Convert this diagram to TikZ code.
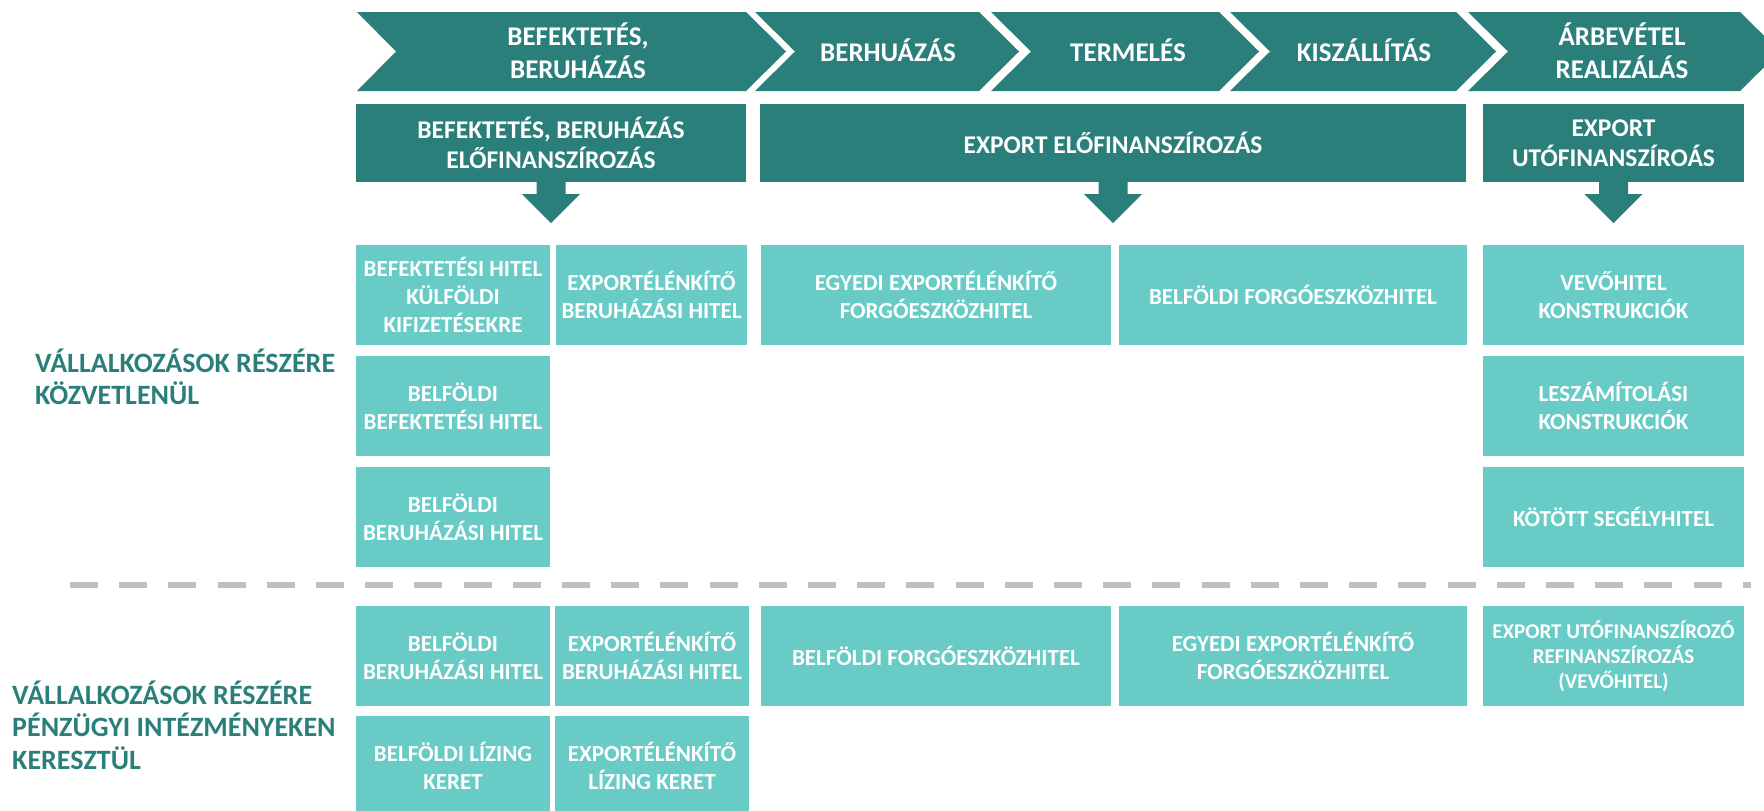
\documentclass[tikz,border=0pt]{standalone}
\usepackage{fontspec}
\setmainfont{Carlito}
\definecolor{tealdark}{HTML}{2B7F7B}
\definecolor{teallight}{HTML}{68CBC6}
\definecolor{dashgray}{HTML}{BFBFBF}

\begin{document}
\begin{tikzpicture}[x=1pt,y=-1pt,
    phase/.style={fill=tealdark},
    phasetext/.style={text=white,align=center,inner sep=0pt,font=\bfseries\fontsize{27}{33}\selectfont},
    stage/.style={fill=tealdark,text=white,align=center,inner sep=0pt,minimum height=78pt,font=\bfseries\fontsize{25.5}{30}\selectfont},
    loan/.style={fill=teallight,text=white,align=center,inner sep=0pt,minimum height=100pt,font=\bfseries\fontsize{23}{28}\selectfont},
    group/.style={text=tealdark,align=left,anchor=west,inner sep=0pt,font=\bfseries\fontsize{28}{32.5}\selectfont},
    sep/.style={draw=dashgray,line width=6pt,dash pattern=on 28pt off 21.2pt}]
                    \useasboundingbox (0,0) rectangle (1764,811);
                    \clip (0,0) rectangle (1764,811);

                    % phases
                    \fill[phase] (357,12) -- (746,12) -- (786,51.5) -- (746,91) -- (357,91) -- (396,51.5) -- cycle;
                    \fill[phase] (755,12) -- (979,12) -- (1019,51.5) -- (979,91) -- (755,91) -- (795,51.5) -- cycle;
                    \fill[phase] (991,12) -- (1219,12) -- (1259,51.5) -- (1219,91) -- (991,91) -- (1031,51.5) -- cycle;
                    \fill[phase] (1230,12) -- (1456,12) -- (1496,51.5) -- (1456,91) -- (1230,91) -- (1270,51.5) -- cycle;
                    \fill[phase] (1468,12) -- (1740,12) -- (1780,51.5) -- (1740,91) -- (1468,91) -- (1508,51.5) -- cycle;
                    \node[phasetext] at (578,51) (befektetes) {BEFEKTETÉS,\\BERUHÁZÁS};
                    \node[phasetext] at (888,50) (berhuazas) {BERHUÁZÁS};
                    \node[phasetext] at (1128,50) (termeles) {TERMELÉS};
                    \node[phasetext] at (1364,50) (kiszallitas) {KISZÁLLÍTÁS};
                    \node[phasetext] at (1622,51) (arbevetel) {ÁRBEVÉTEL\\REALIZÁLÁS};

                    % financing stages
                    \node[stage,minimum width=390pt] at (551,143) (befin) {BEFEKTETÉS, BERUHÁZÁS\\ELŐFINANSZÍROZÁS};
                    \node[stage,minimum width=706pt] at (1113,143) (expfin) {EXPORT ELŐFINANSZÍROZÁS};
                    \node[stage,minimum width=261pt] at (1613.5,143) (utofin) {EXPORT\\UTÓFINANSZÍROÁS};

                    \fill[tealdark] ([xshift=-14.5pt]befin.south) -- ++(0,12) -- ++(-14.5,0) -- ++(29,29) -- ++(29,-29) -- ++(-14.5,0) -- ++(0,-12) -- cycle;
                    \fill[tealdark] ([xshift=-14.5pt]expfin.south) -- ++(0,12) -- ++(-14.5,0) -- ++(29,29) -- ++(29,-29) -- ++(-14.5,0) -- ++(0,-12) -- cycle;
                    \fill[tealdark] ([xshift=-14.5pt]utofin.south) -- ++(0,12) -- ++(-14.5,0) -- ++(29,29) -- ++(29,-29) -- ++(-14.5,0) -- ++(0,-12) -- cycle;

                    % directly to companies
                    \node[group] at (35,377) (direct) {VÁLLALKOZÁSOK RÉSZÉRE\\KÖZVETLENÜL};
                    \node[loan,minimum width=194pt] at (453,295) (d11) {BEFEKTETÉSI HITEL\\KÜLFÖLDI\\KIFIZETÉSEKRE};
                    \node[loan,minimum width=191pt] at (651.5,295) (d12) {EXPORTÉLÉNKÍTŐ\\BERUHÁZÁSI HITEL};
                    \node[loan,minimum width=350pt] at (936,295) (d13) {EGYEDI EXPORTÉLÉNKÍTŐ\\FORGÓESZKÖZHITEL};
                    \node[loan,minimum width=348pt] at (1293,295) (d14) {BELFÖLDI FORGÓESZKÖZHITEL};
                    \node[loan,minimum width=261pt] at (1613.5,295) (d15) {VEVŐHITEL\\KONSTRUKCIÓK};
                    \node[loan,minimum width=194pt] at (453,406) (d21) {BELFÖLDI\\BEFEKTETÉSI HITEL};
                    \node[loan,minimum width=261pt] at (1613.5,406) (d25) {LESZÁMÍTOLÁSI\\KONSTRUKCIÓK};
                    \node[loan,minimum width=194pt] at (453,517) (d31) {BELFÖLDI\\BERUHÁZÁSI HITEL};
                    \node[loan,minimum width=261pt] at (1613.5,517) (d35) {KÖTÖTT SEGÉLYHITEL};

                    \coordinate (sepL) at (70,584.5);
                    \coordinate (sepR) at (1751,584.5);
                    \draw[sep] (sepL) -- (sepR);

                    % through financial institutions
                    \node[group] at (12,725) (indirect) {VÁLLALKOZÁSOK RÉSZÉRE\\PÉNZÜGYI INTÉZMÉNYEKEN\\KERESZTÜL};
                    \node[loan,minimum width=194pt] at (453,656) (i11) {BELFÖLDI\\BERUHÁZÁSI HITEL};
                    \node[loan,minimum width=194pt] at (652,656) (i12) {EXPORTÉLÉNKÍTŐ\\BERUHÁZÁSI HITEL};
                    \node[loan,minimum width=350pt] at (936,656) (i13) {BELFÖLDI FORGÓESZKÖZHITEL};
                    \node[loan,minimum width=348pt] at (1293,656) (i14) {EGYEDI EXPORTÉLÉNKÍTŐ\\FORGÓESZKÖZHITEL};
                    \node[loan,minimum width=261pt,font=\bfseries\fontsize{21}{25}\selectfont] at (1613.5,656) (i15) {EXPORT UTÓFINANSZÍROZÓ\\REFINANSZÍROZÁS\\(VEVŐHITEL)};
                    \node[loan,minimum width=194pt] at (453,766) (i21) {BELFÖLDI LÍZING\\KERET};
                    \node[loan,minimum width=194pt] at (652,766) (i22) {EXPORTÉLÉNKÍTŐ\\LÍZING KERET};
                \end{tikzpicture}
\end{document}
